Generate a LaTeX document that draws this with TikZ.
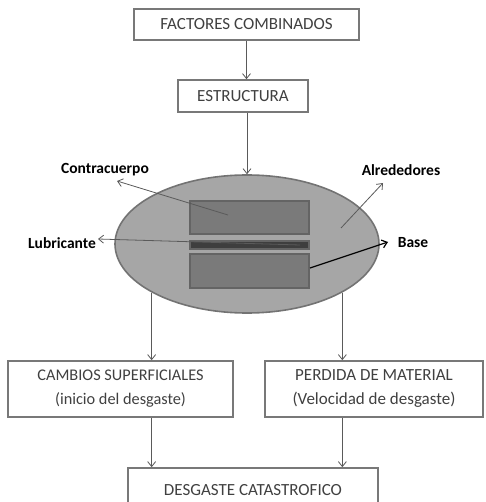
\documentclass[tikz,border=0pt]{standalone}
\usepackage{fontspec}
\setmainfont{Carlito}
\usepackage{xcolor}
\usepackage{tikz}
\usetikzlibrary{calc}
\usetikzlibrary{arrows.meta}
\usetikzlibrary{shapes.geometric}

\definecolor{boxline}{RGB}{120,120,120}
\definecolor{boxtext}{RGB}{64,64,64}
\definecolor{ellfill}{RGB}{166,166,166}
\definecolor{ellline}{RGB}{115,115,115}
\definecolor{blockfill}{RGB}{122,122,122}
\definecolor{blockline}{RGB}{100,100,100}
\definecolor{stripfill}{RGB}{62,62,62}
\definecolor{arrline}{RGB}{90,90,90}

\begin{document}
\begin{tikzpicture}[x=1pt,y=-1pt,
	caja/.style={draw=boxline,line width=1.6pt,fill=white,text=boxtext,inner sep=0pt,align=center,font=\fontsize{17}{24}\selectfont},
	bloque/.style={draw=blockline,line width=1.5pt,fill=blockfill,inner sep=0pt,minimum width=119pt},
	etiqueta/.style={font=\bfseries\fontsize{15.5}{18}\selectfont,inner sep=0pt},
	flecha/.style={draw=arrline,line width=0.8pt,-{Straight Barb[length=5pt,width=8pt]}}]
		\clip (0,0) rectangle (485,502);
		% cajas de arriba
		\node[caja,minimum width=225pt,minimum height=31pt] (factores) at (246.5,24.5) {FACTORES COMBINADOS};
		\node[caja,minimum width=130pt,minimum height=32pt] (estructura) at (243,96) {ESTRUCTURA};
		% sistema tribologico
		\node[ellipse,draw=ellline,line width=1.6pt,fill=ellfill,minimum width=264pt,minimum height=138pt,inner sep=0pt] (sistema) at (247,244) {};
		\node[bloque,minimum height=33pt] (contracuerpo) at (249.5,217.5) {};
		\node[bloque,minimum height=8pt,fill=stripfill] (lubricante) at (249.5,245) {};
		\node[bloque,minimum height=34pt] (basebloque) at (249.5,271) {};
		\node[etiqueta] (contra) at (105,170) {Contracuerpo};
		\node[etiqueta] (alred) at (401,170) {Alrededores};
		\node[etiqueta] (lubri) at (62,243) {Lubricante};
		\node[etiqueta] (base) at (413,243) {Base};
		\coordinate (pcontra) at (228,215);
		\coordinate (tcontra) at (117,181);
		\coordinate (palred) at (341,228);
		\coordinate (talred) at (383,183);
		\coordinate (plubri) at (300,245);
		\coordinate (tlubri) at (98,239);
		\coordinate (pbase) at (310,268);
		\coordinate (tbase) at (388,242);
		\draw[flecha] (pcontra) -- (tcontra);
		\draw[flecha] (palred) -- (talred);
		\draw[flecha] (plubri) -- (tlubri);
		\draw[flecha,draw=black,line width=1.2pt] (pbase) -- (tbase);
		% cajas de abajo
		\node[caja,minimum width=225pt,minimum height=56pt,font=\fontsize{16.3}{24}\selectfont] (cambios) at (120.5,389) {CAMBIOS SUPERFICIALES\\(inicio del desgaste)};
		\node[caja,minimum width=218pt,minimum height=56pt] (perdida) at (374,389) {PERDIDA DE MATERIAL\\(Velocidad de desgaste)};
		\node[caja,minimum width=250pt,minimum height=44pt] (catastrofico) at (253,490) {DESGASTE CATASTROFICO};
		% flechas
		\draw[flecha] (factores.south) -- (factores.south |- estructura.north);
		\draw[flecha] (sistema.north |- estructura.south) -- (sistema.north);
		\draw[flecha] (sistema.207) -- (sistema.207 |- cambios.north);
		\draw[flecha] (sistema.333) -- (sistema.333 |- perdida.north);
		\draw[flecha] (sistema.207 |- cambios.south) -- (sistema.207 |- catastrofico.north);
		\draw[flecha] (sistema.333 |- perdida.south) -- (sistema.333 |- catastrofico.north);
	\end{tikzpicture}
\end{document}
